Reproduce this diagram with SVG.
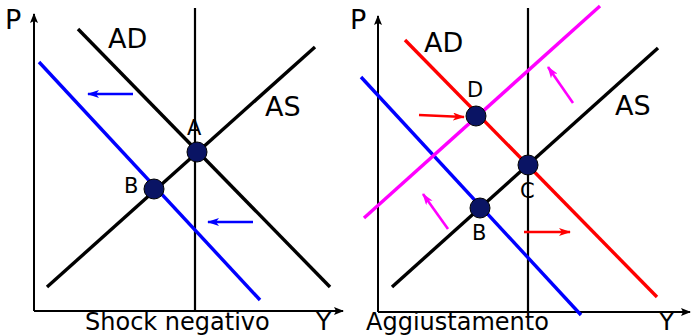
<svg xmlns="http://www.w3.org/2000/svg" width="691" height="336" viewBox="0 0 691 336">
<style>
text{font-family:"DejaVu Sans","Liberation Sans",sans-serif;fill:#000}
.ax{stroke:#000;stroke-width:2;fill:none}
.vl{stroke:#000;stroke-width:2.2;fill:none}
.cv{stroke-width:3.4;fill:none}
.sh{stroke-width:2.6;fill:none}
.pt{fill:#0a1464;stroke:#000;stroke-width:1}
.big{font-size:27px}
.yl{font-size:25px}
.lbl{font-size:21px}
.cap{font-size:24px}
</style>
<defs>
<marker id="ah" viewBox="0 0 10 8" refX="9" refY="4" markerWidth="10" markerHeight="8" markerUnits="userSpaceOnUse" orient="auto"><path d="M0,0 L10,4 L0,8 L2,4 Z" fill="#000"/></marker>
<marker id="ab" viewBox="0 0 12 8" refX="11" refY="4" markerWidth="12" markerHeight="8" markerUnits="userSpaceOnUse" orient="auto"><path d="M0,0 L12,4 L0,8 L3,4 Z" fill="#0000ff"/></marker>
<marker id="ar" viewBox="0 0 12 8" refX="11" refY="4" markerWidth="12" markerHeight="8" markerUnits="userSpaceOnUse" orient="auto"><path d="M0,0 L12,4 L0,8 L3,4 Z" fill="#ff0000"/></marker>
<marker id="am" viewBox="0 0 12 8" refX="11" refY="4" markerWidth="12" markerHeight="8" markerUnits="userSpaceOnUse" orient="auto"><path d="M0,0 L12,4 L0,8 L3,4 Z" fill="#ff00ff"/></marker>
</defs>
<g id="connectors">
<!-- left panel -->
<line class="ax" x1="34" y1="311" x2="34" y2="14" marker-end="url(#ah)"/>
<line class="ax" x1="34" y1="311" x2="343" y2="311" marker-end="url(#ah)"/>
<line class="vl" x1="195" y1="8" x2="195" y2="311"/>
<line class="cv" stroke="#000" x1="78" y1="29" x2="330" y2="287"/>
<line class="cv" stroke="#000" x1="47" y1="287" x2="315" y2="47"/>
<line class="cv" stroke="#0000ff" x1="39" y1="62" x2="260" y2="300"/>
<line class="sh" stroke="#0000ff" x1="133" y1="94" x2="88" y2="94" marker-end="url(#ab)"/>
<line class="sh" stroke="#0000ff" x1="253" y1="222" x2="208" y2="222" marker-end="url(#ab)"/>
<!-- right panel -->
<line class="ax" x1="378" y1="312" x2="378" y2="16" marker-end="url(#ah)"/>
<line class="ax" x1="378" y1="312" x2="690" y2="312" marker-end="url(#ah)"/>
<line class="vl" x1="528" y1="8" x2="528" y2="312"/>
<line class="cv" stroke="#ff0000" x1="405" y1="40" x2="657" y2="297"/>
<line class="cv" stroke="#000" x1="392" y1="287" x2="658" y2="48"/>
<line class="cv" stroke="#0000ff" x1="361" y1="77" x2="581" y2="315"/>
<line class="cv" stroke="#ff00ff" x1="364" y1="218" x2="600" y2="6"/>
<line class="sh" stroke="#ff0000" x1="419" y1="115" x2="464" y2="117" marker-end="url(#ar)"/>
<line class="sh" stroke="#ff0000" x1="524" y1="232" x2="570" y2="232" marker-end="url(#ar)"/>
<line class="sh" stroke="#ff00ff" x1="573" y1="103" x2="548" y2="67" marker-end="url(#am)"/>
<line class="sh" stroke="#ff00ff" x1="448" y1="229" x2="423" y2="194" marker-end="url(#am)"/>
</g>
<g id="left-labels">
<text class="big" x="5" y="29">P</text>
<text class="big" x="108" y="48">AD</text>
<text class="big" x="265" y="116">AS</text>
<text class="yl" x="316" y="330">Y</text>
<text class="cap" x="85" y="330">Shock negativo</text>
</g>
<g id="node-A">
<circle class="pt" cx="197" cy="152" r="10"/>
<text class="lbl" x="187" y="135">A</text>
</g>
<g id="node-B1">
<circle class="pt" cx="154" cy="189" r="10"/>
<text class="lbl" x="124" y="193">B</text>
</g>
<g id="right-labels">
<text class="big" x="350" y="29">P</text>
<text class="big" x="424" y="52">AD</text>
<text class="big" x="615" y="115">AS</text>
<text class="yl" x="659" y="330">Y</text>
<text class="cap" x="366" y="330">Aggiustamento</text>
</g>
<g id="node-D">
<circle class="pt" cx="476" cy="116" r="10"/>
<text class="lbl" x="467" y="97">D</text>
</g>
<g id="node-C">
<circle class="pt" cx="528" cy="165" r="10"/>
<text class="lbl" x="520" y="198">C</text>
</g>
<g id="node-B2">
<circle class="pt" cx="480" cy="208" r="10"/>
<text class="lbl" x="472" y="240">B</text>
</g>
</svg>
